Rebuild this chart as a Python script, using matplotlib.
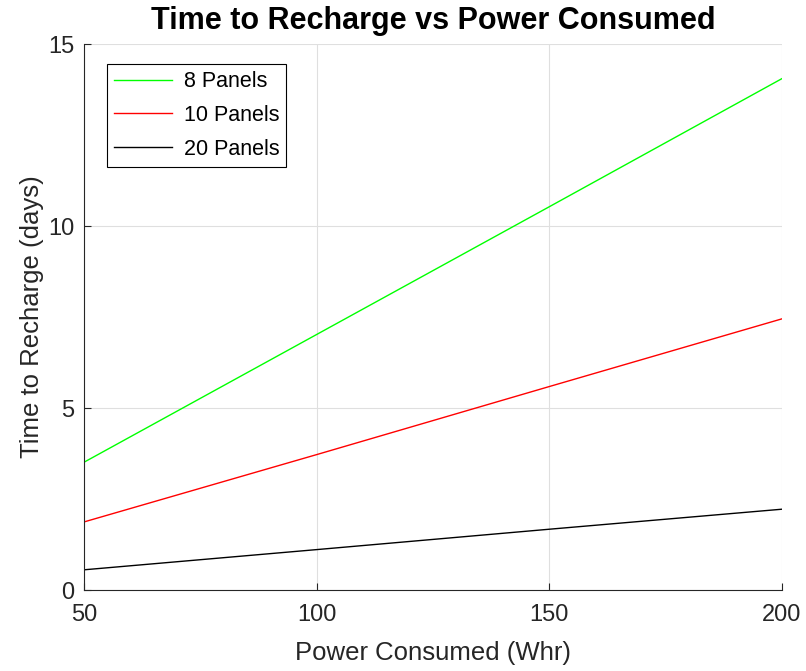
import numpy as np
import matplotlib
matplotlib.use('Agg')
import matplotlib.pyplot as plt

plt.rcParams['font.family'] = ['Liberation Sans', 'DejaVu Sans']

# DATA
power = [50, 100, 150, 200]
panels8 = [3.51, 7.02, 10.53, 14.05]
panels10 = [1.87, 3.72, 5.59, 7.45]
panels20 = [0.555, 1.11, 1.67, 2.22]
labels = ['8 Panels', '10 Panels', '20 Panels']
xticks = [50, 100, 150, 200]
yticks = [0, 5, 10, 15]

fig = plt.figure(figsize=(8.06, 6.71), dpi=100)
ax = fig.add_axes([0.1042, 0.1207, 0.866, 0.8137])

ax.plot(power, panels8, color='#00ff00', linewidth=1.0, label=labels[0])
ax.plot(power, panels10, color='#ff0000', linewidth=1.0, label=labels[1])
ax.plot(power, panels20, color='black', linewidth=1.0, label=labels[2])

ax.set_xlim(50, 200)
ax.set_ylim(0, 15)
ax.set_xticks(xticks)
ax.set_yticks(yticks)
ax.grid(True, color='#dfdfdf', linewidth=0.8)
ax.set_axisbelow(True)

for s in ['top', 'right']:
    ax.spines[s].set_visible(False)
for s in ['left', 'bottom']:
    ax.spines[s].set_color('#262626')
    ax.spines[s].set_linewidth(0.8)

ax.tick_params(direction='in', length=5, width=0.8, colors='#262626',
               labelsize=17)
ax.tick_params(axis='x', pad=10)
ax.tick_params(axis='y', pad=7)

ax.set_xlabel('Power Consumed (Whr)', fontsize=18.5, color='#262626', labelpad=11)
ax.set_ylabel('Time to Recharge (days)', fontsize=18.5, color='#262626', labelpad=3)
ax.set_title('Time to Recharge vs Power Consumed', fontsize=22, fontweight='bold', pad=11)

leg = ax.legend(loc='upper left', bbox_to_anchor=(0.033, 0.963), borderaxespad=0,
                fontsize=15.5, fancybox=False, edgecolor='black', framealpha=1,
                handlelength=2.7, handletextpad=0.55, labelspacing=0.6,
                borderpad=0.32)
leg.get_frame().set_linewidth(0.8)

fig.savefig('out.png', dpi=100)
